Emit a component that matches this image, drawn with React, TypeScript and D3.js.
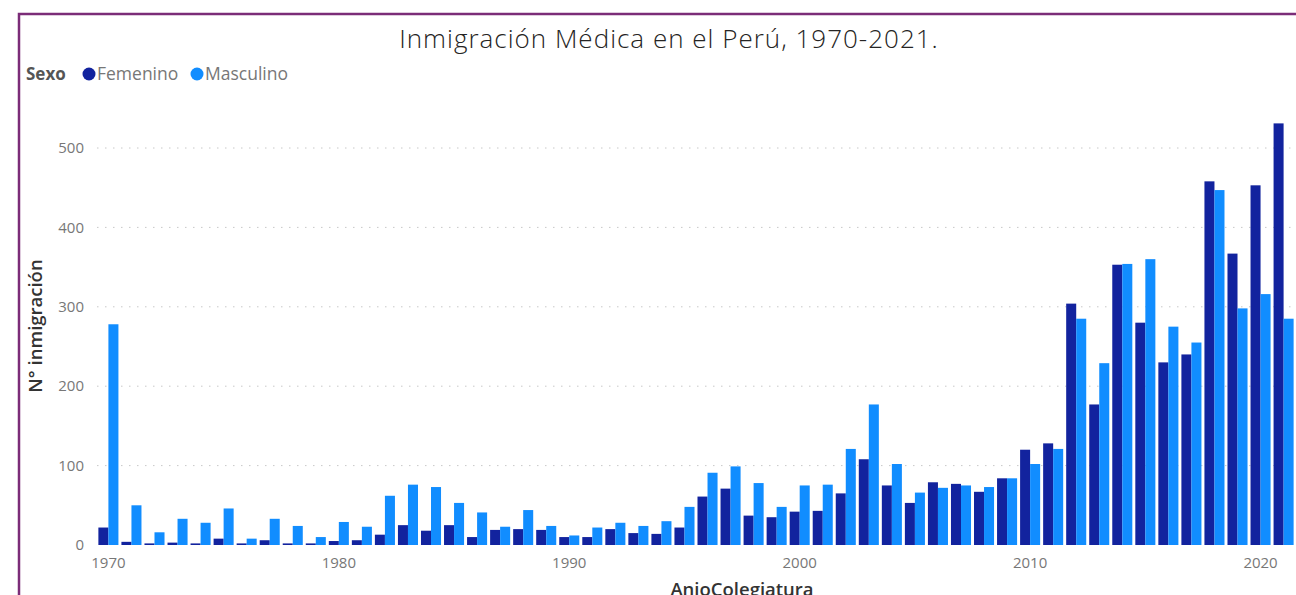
import { useRef, useEffect } from 'react';
import * as d3 from 'd3';

const years = d3.range(1970, 2022).map(String);
// N° de médicos inmigrantes por año de colegiatura
const femenino = [
  22, 4, 2, 3, 2, 8, 2, 6, 2, 2,
  5, 6, 13, 25, 18, 25, 10, 19, 20, 19,
  10, 10, 20, 15, 14, 22, 61, 71, 37, 35,
  42, 43, 65, 108, 75, 53, 79, 77, 67, 84,
  120, 128, 304, 177, 353, 280, 230, 240, 458, 367,
  453, 531,
];
const masculino = [
  278, 50, 16, 33, 28, 46, 8, 33, 24, 10,
  29, 23, 62, 76, 73, 53, 41, 23, 44, 24,
  12, 22, 28, 24, 30, 48, 91, 99, 78, 48,
  75, 76, 121, 177, 102, 66, 72, 75, 73, 84,
  102, 121, 285, 229, 354, 360, 275, 255, 447, 298,
  316, 285,
];
const series = ['Femenino', 'Masculino'];
const colors = ['#12239E', '#118DFF'];
const yTicks = [0, 100, 200, 300, 400, 500];
const xTickYears = ['1970', '1980', '1990', '2000', '2010', '2020'];

function App() {
  const svgRef = useRef(null);
  const width = 1296;
  const height = 595;

  useEffect(() => {
    const svg = d3.select(svgRef.current);
    svg.selectAll('*').remove();
    svg.style('font-family', '"Open Sans", "DejaVu Sans", sans-serif');

    const margin = { top: 148, right: 0, bottom: 50, left: 97 };

    svg.append('rect').attr('width', width).attr('height', height).attr('fill', '#fff');

    // borde del visual
    svg
      .append('path')
      .attr('d', `M19,${height} V14 H${width}`)
      .attr('fill', 'none')
      .attr('stroke', '#7B2C78')
      .attr('stroke-width', 2.5);

    const x = d3
      .scaleBand()
      .domain(years)
      .range([margin.left, width - 1])
      .paddingInner(0.13)
      .paddingOuter(0.06);

    const xSub = d3.scaleBand().domain(series).range([0, x.bandwidth()]);

    const y = d3
      .scaleLinear()
      .domain([0, 500])
      .range([545, margin.top]);

    // grid
    svg
      .append('g')
      .selectAll('line')
      .data(yTicks.filter((d) => d > 0))
      .join('line')
      .attr('x1', margin.left)
      .attr('x2', width)
      .attr('y1', (d) => y(d))
      .attr('y2', (d) => y(d))
      .attr('stroke', '#c8c8c8')
      .attr('stroke-dasharray', '1.5,6.5');

    // y tick labels
    svg
      .append('g')
      .selectAll('text')
      .data(yTicks)
      .join('text')
      .attr('x', 84)
      .attr('y', (d) => y(d))
      .attr('dy', '0.35em')
      .attr('text-anchor', 'end')
      .attr('fill', '#777')
      .style('font-size', '15px')
      .text((d) => d);

    // bars
    const data = years.map((yr, i) => ({ yr, vals: [femenino[i], masculino[i]] }));
    const groups = svg
      .append('g')
      .selectAll('g')
      .data(data)
      .join('g')
      .attr('transform', (d) => `translate(${x(d.yr)},0)`);

    groups
      .selectAll('rect')
      .data((d) => d.vals.map((v, k) => ({ key: series[k], v, k })))
      .join('rect')
      .attr('x', (d) => xSub(d.key))
      .attr('width', xSub.bandwidth())
      .attr('y', (d) => y(d.v))
      .attr('height', (d) => y(0) - y(d.v))
      .attr('fill', (d) => colors[d.k]);

    // x tick labels
    svg
      .append('g')
      .selectAll('text')
      .data(xTickYears)
      .join('text')
      .attr('x', (d) => x(d) + x.bandwidth() / 2)
      .attr('y', 568)
      .attr('text-anchor', 'middle')
      .attr('fill', '#777')
      .style('font-size', '15px')
      .text((d) => d);

    // axis titles
    svg
      .append('text')
      .attr('x', 742)
      .attr('y', 596)
      .attr('text-anchor', 'middle')
      .attr('fill', '#333')
      .style('font-size', '18.5px')
      .style('font-weight', 600)
      .text('AnioColegiatura');

    svg
      .append('text')
      .attr('transform', 'translate(42,326) rotate(-90)')
      .attr('text-anchor', 'middle')
      .attr('fill', '#333')
      .style('font-size', '18.5px')
      .style('font-weight', 600)
      .text('N° inmigración');

    // title
    svg
      .append('text')
      .attr('x', 669)
      .attr('y', 48)
      .attr('text-anchor', 'middle')
      .attr('fill', '#252423')
      .style('font-size', '26px')
      .style('font-weight', 300)
      .style('letter-spacing', '1px')
      .text('Inmigración Médica en el Perú, 1970-2021.');

    // legend
    const legend = svg.append('g').attr('transform', 'translate(26,74)');
    legend
      .append('text')
      .attr('x', 0)
      .attr('dy', '0.35em')
      .attr('fill', '#555')
      .style('font-size', '17px')
      .style('font-weight', 700)
      .text('Sexo');
    const lx = [63, 171];
    series.forEach((s, i) => {
      legend
        .append('circle')
        .attr('cx', lx[i])
        .attr('cy', 0)
        .attr('r', 6.5)
        .attr('fill', colors[i]);
      legend
        .append('text')
        .attr('x', lx[i] + 8)
        .attr('dy', '0.35em')
        .attr('fill', '#777')
        .style('font-size', '17.5px')
        .text(s);
    });
  }, []);

  return (
    <svg
      ref={svgRef}
      width={width}
      height={height}
      style={{ position: 'absolute', left: 0, top: 0 }}
    ></svg>
  );
}

export default App;
